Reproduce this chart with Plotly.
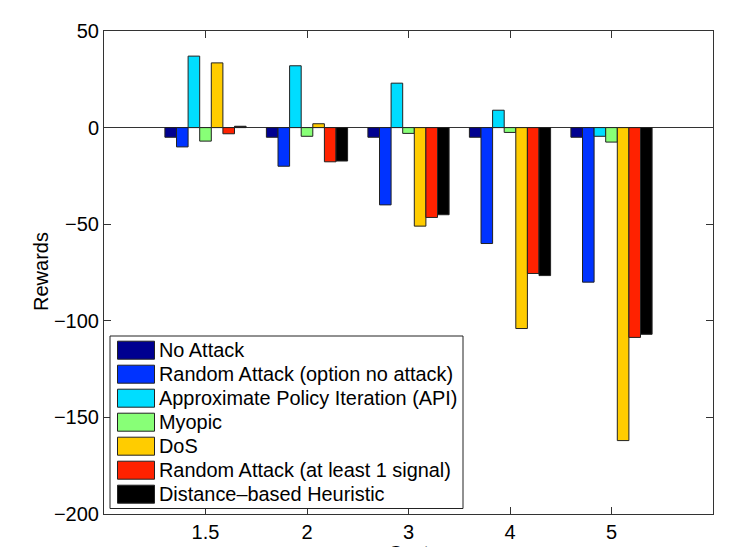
import plotly.graph_objects as go

# ---- data ----
costs = ["1.5", "2", "3", "4", "5"]
series_names = [
    "No Attack",
    "Random Attack (option no attack)",
    "Approximate Policy Iteration (API)",
    "Myopic",
    "DoS",
    "Random Attack (at least 1 signal)",
    "Distance\u2013based Heuristic",
]
no_attack = [-5, -5, -5, -5, -5]
random_no_attack = [-10, -20, -40, -60, -80]
api = [37, 32, 23, 9, -4.5]
myopic = [-7, -4.5, -3, -2.5, -7.5]
dos = [33.5, 2, -51, -104, -162]
random_one = [-3.2, -17.7, -46.5, -75.5, -108.6]
distance = [0.7, -17.3, -45.1, -76.6, -107]
series_values = [no_attack, random_no_attack, api, myopic, dos, random_one, distance]

colors = ["#000090", "#0033FF", "#00DDFF", "#88FF77", "#FFCC00", "#FF2200", "#000000"]

FONT = "Liberation Sans, Arial, Helvetica, sans-serif"

W, H = 747, 547
L, R, T, B = 104, 34, 31, 33
PW, PH = W - L - R, H - T - B


def px(x):
    return (x - L) / PW


def py(y):
    return (H - B - y) / PH


fig = go.Figure()
for name, vals, col in zip(series_names, series_values, colors):
    fig.add_trace(go.Bar(
        x=costs, y=vals, name=name,
        marker=dict(color=col, line=dict(color="#222222", width=1)),
        showlegend=False,
    ))

# manual MATLAB-style legend
shapes = [dict(type="rect", xref="paper", yref="paper",
               x0=px(110), x1=px(463), y0=py(508.5), y1=py(336),
               fillcolor="white", line=dict(color="#222222", width=1), layer="above")]
annotations = []
for i, (name, col) in enumerate(zip(series_names, colors)):
    cy = 350.2 + 24.0 * i
    shapes.append(dict(type="rect", xref="paper", yref="paper",
                       x0=px(117.5), x1=px(154.5), y0=py(cy + 9), y1=py(cy - 9),
                       fillcolor=col, line=dict(color="#222222", width=1), layer="above"))
    annotations.append(dict(xref="paper", yref="paper", x=px(157), y=py(cy),
                            xanchor="left", yanchor="middle", text=name, showarrow=False,
                            font=dict(family=FONT, size=19.9, color="black")))

# axis titles
annotations.append(dict(xref="paper", yref="paper", x=px(41), y=py(272), text="Rewards",
                        textangle=-90, showarrow=False, xanchor="center", yanchor="middle",
                        font=dict(family=FONT, size=20, color="black")))
annotations.append(dict(xref="paper", yref="paper", x=px(408.5), y=py(553), text="Cost",
                        showarrow=False, xanchor="center", yanchor="middle",
                        font=dict(family=FONT, size=20, color="black")))

fig.update_layout(
    width=W, height=H,
    margin=dict(l=L, r=R, t=T, b=B, autoexpand=False),
    paper_bgcolor="white", plot_bgcolor="white",
    barmode="group", bargap=0.2, bargroupgap=0,
    font=dict(family=FONT, size=20, color="black"),
    shapes=shapes, annotations=annotations,
)
fig.update_xaxes(
    type="category", range=[-1, 5], automargin=False,
    showline=True, linecolor="#333333", linewidth=1, mirror="ticks",
    ticks="inside", ticklen=7, tickcolor="#333333",
    showgrid=False, zeroline=False,
    tickfont=dict(family=FONT, size=20, color="black"),
)
fig.update_yaxes(
    range=[-200, 50], tickvals=[-200, -150, -100, -50, 0, 50], automargin=False,
    showline=True, linecolor="#333333", linewidth=1, mirror="ticks",
    ticks="inside", ticklen=7, tickcolor="#333333",
    showgrid=False, zeroline=True, zerolinecolor="#333333", zerolinewidth=1,
    tickfont=dict(family=FONT, size=20, color="black"),
)

fig.write_html(
    "out.html",
    config={"displayModeBar": False},
    post_script="document.documentElement.style.margin='0';document.body.style.margin='0';"
                "document.body.style.overflow='hidden';",
)
